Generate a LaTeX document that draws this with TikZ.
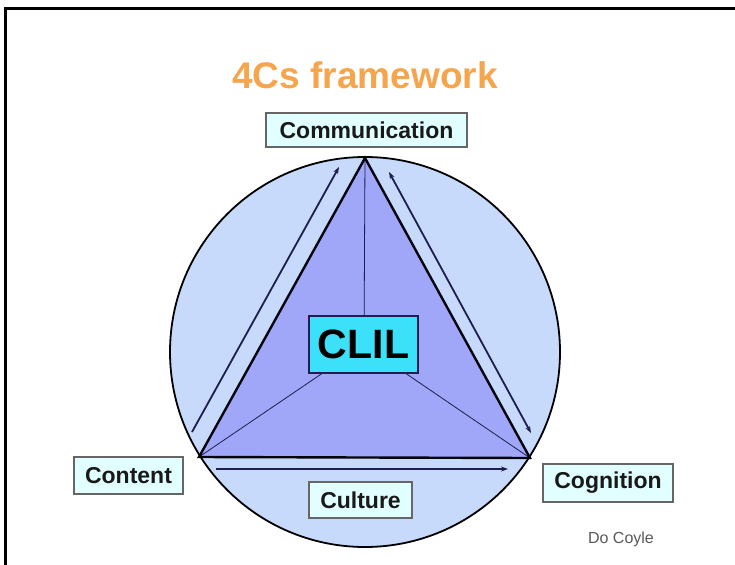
\documentclass[tikz,border=0pt]{standalone}
\usepackage{fontspec}
\setmainfont{Liberation Sans}
\usetikzlibrary{arrows.meta}
\definecolor{circfill}{RGB}{200,218,252}
\definecolor{trifill}{RGB}{160,166,248}
\definecolor{navy}{RGB}{30,30,80}
\definecolor{clilfill}{RGB}{60,224,248}
\definecolor{labfill}{RGB}{226,255,255}
\definecolor{titleorange}{RGB}{245,165,75}
\begin{document}
\begin{tikzpicture}[x=1pt,y=-1pt,
  labelbox/.style={draw=gray!80!black, fill=labfill, line width=1.2pt, inner sep=0pt, font=\bfseries\fontsize{23}{23}\selectfont, text=black!90},
  arr/.style={draw=navy, line width=1.8pt, -{Stealth[length=7pt,width=5pt]}},
  inner/.style={draw=navy, line width=0.8pt}]
\useasboundingbox (0,0) rectangle (735,564);
\fill[white] (0,0) rectangle (735,564);
% frame
\draw[line width=3pt] (5.5,570) -- (5.5,9) -- (740,9);
% title
\node[font=\bfseries\fontsize{37}{37}\selectfont, text=titleorange] (title) at (365,75) {4Cs framework};
% circle
\node[circle, draw=black, line width=1.8pt, fill=circfill, minimum size=390pt, inner sep=0pt] (circ) at (365,352) {};
% vertices
\coordinate (top) at (365,158);
\coordinate (left) at (199,457);
\coordinate (right) at (530,458);
\coordinate (ctr) at (364,345);
\fill[trifill] (top) -- (left) -- (right) -- cycle;
\draw[inner] (ctr) -- (top);
\draw[inner] (ctr) -- (left);
\draw[inner] (ctr) -- (right);
\draw[line width=2.4pt, draw=black!85!navy, line join=miter] (top) -- (left) -- (right) -- cycle;
% arrows
\coordinate (a1s) at (192,432);
\coordinate (a1e) at (339,167);
\coordinate (a2s) at (389,172);
\coordinate (a2e) at (531,433);
\coordinate (a3s) at (216,469);
\coordinate (a3e) at (508,469);
\draw[arr] (a1s) -- (a1e);
\draw[arr, {Stealth[length=7pt,width=5pt]}-{Stealth[length=7pt,width=5pt]}] (a2s) -- (a2e);
\draw[arr] (a3s) -- (a3e);
% CLIL
\node[draw=navy, line width=1.6pt, fill=clilfill, minimum width=109pt, minimum height=57pt, inner sep=0pt, font=\bfseries\fontsize{41}{41}\selectfont] (clil) at (363.5,344.5) {CLIL};
% labels
\node[labelbox, minimum width=201pt, minimum height=34pt] (comm) at (366.5,130) {Communication};
\node[labelbox, minimum width=109pt, minimum height=37pt] (content) at (128.5,475.5) {Content};
\node[labelbox, minimum width=103pt, minimum height=36pt] (culture) at (360.5,500) {Culture};
\node[labelbox, minimum width=130pt, minimum height=38pt] (cog) at (608,483) {Cognition};
\node[font=\fontsize{16}{16}\selectfont, text=black!65] (coyle) at (621,539) {Do Coyle};
\end{tikzpicture}
\end{document}
